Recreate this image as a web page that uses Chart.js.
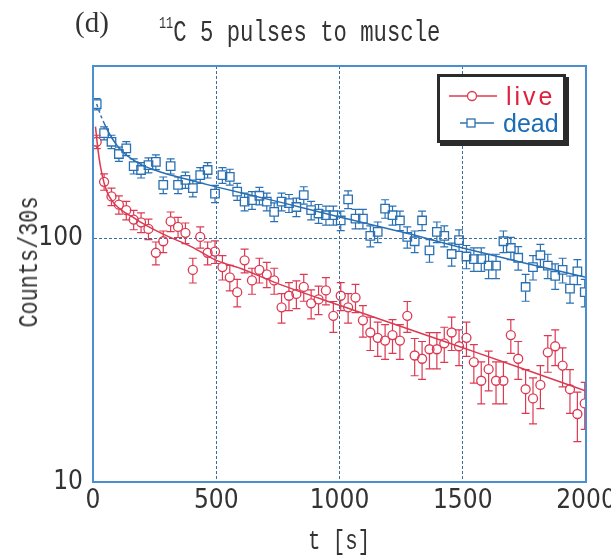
<!DOCTYPE html>
<html><head><meta charset="utf-8">
<script src="https://cdn.jsdelivr.net/npm/chart.js@4"></script>
<style>
body{margin:0;background:#fff;}
#wrap{position:relative;width:611px;height:557px;overflow:hidden;background:#fff;}
canvas{position:absolute;left:0;top:0;}
.t{position:absolute;white-space:nowrap;color:#333;line-height:1;}
</style></head><body>
<div id="wrap">
<canvas id="c" width="611" height="557"></canvas>
<div class="t" style="left:75px;top:8px;font-family:'Liberation Serif',serif;font-size:29px;">(d)</div>
<div class="t" style="left:159px;top:18px;font-family:'Liberation Mono',monospace;font-size:30px;transform-origin:0 0;transform:scaleX(0.742);"><span style="font-size:16px;position:relative;top:-13px;">11</span>C 5 pulses to muscle</div>
<div class="t" style="left:339px;top:542px;font-family:'Liberation Mono',monospace;font-size:28px;transform:translate(-50%,-50%) scaleX(0.74);">t [s]</div>
<div class="t" style="left:30px;top:262px;font-family:'Liberation Mono',monospace;font-size:28px;transform:translate(-50%,-50%) rotate(-90deg) scaleX(0.78);">Counts/30s</div>
<div id="leg" style="position:absolute;left:437px;top:74px;width:123px;height:63px;border:3px solid #2b2b2b;box-shadow:3px 3px 0 #2b2b2b;background:#fff;">
<svg width="123" height="63" style="position:absolute;left:0;top:0;">
<line x1="9" y1="19" x2="57" y2="19" stroke="#dc3a52" stroke-width="1.5"/>
<circle cx="32" cy="19" r="4.5" fill="#fff" stroke="#dc3a52" stroke-width="1.3"/>
<line x1="20" y1="46" x2="54" y2="46" stroke="#2a70b2" stroke-width="1.5"/>
<rect x="27" y="42" width="8" height="8" fill="#fff" stroke="#2a70b2" stroke-width="1.3"/>
</svg>
<div class="t" style="left:66px;top:7px;font-family:'Liberation Sans',sans-serif;font-size:25px;letter-spacing:3px;color:#e0203c;">live</div>
<div class="t" style="left:63px;top:34px;font-family:'Liberation Sans',sans-serif;font-size:25px;color:#1c6db5;">dead</div>
</div>
</div>
<script>
const times = [15,45,75,105,135,165,195,225,255,285,315,345,375,405,435,465,495,525,555,585,615,645,675,705,735,765,795,825,855,885,915,945,975,1005,1035,1065,1095,1125,1155,1185,1215,1245,1275,1305,1335,1365,1395,1425,1455,1485,1515,1545,1575,1605,1635,1665,1695,1725,1755,1785,1815,1845,1875,1905,1935,1965,1995];
const liveCounts = [248,170,148,137,130,119,116,109,87,97,117,111,105,74,101,87,88,76,69,60,81,67,74,71,67,52,58,59,63,54,56,61,48,58,52,57,46,41,39,38,40,38,48,33,32,35,35,37,41,36,39,31,26,29,26,26,40,32,24,22,25,34,36,30,24,19,21];
const deadCounts = [354,269,248,221,233,197,190,199,205,165,197,165,173,160,181,190,152,181,178,155,141,143,149,141,128,141,139,134,150,130,126,124,124,118,144,120,120,102,106,132,124,118,101,97,118,89,106,102,86,98,84,82,82,77,77,97,91,83,63,76,85,77,70,74,62,73,60];
const liveFitT = [10,20,30,45,60,80,100,130,160,200,250,300,400,500,600,750,1000,1250,1500,1750,2000];
const liveFitV = [286,231,197,168,152,141,134,127,122,115,108,102,92,81,75,65,53,43.4,35.5,29,23.6];
const deadFitT = [15,30,45,60,80,100,130,160,200,250,300,400,500,750,1000,1250,1500,1750,2000];
const deadFitV = [354,321,296,275,254,238,221,210,199,190,183,172,162,141,122,106,91,79,69];
const xTicks = [0,500,1000,1500,2000];
const yTicks = [10,100];

const RED = '#dc3a52', BLUE = '#2a70b2', FRAME = '#4a8fd0', GRID = '#3a6c9c';
const TICKFONT = {family:"'Liberation Sans Narrow','DejaVu Sans Condensed',sans-serif", size:26};

const errPlugin = {
  id:'err',
  afterDatasetsDraw(chart){
    const ctx = chart.ctx, ys = chart.scales.y, a = chart.chartArea;
    ctx.save();
    ctx.beginPath(); ctx.rect(a.left, a.top, a.right-a.left, a.bottom-a.top); ctx.clip();
    [[0, RED, 4.5], [1, BLUE, 4.2]].forEach(([di, col, r]) => {
      const meta = chart.getDatasetMeta(di);
      const data = chart.data.datasets[di].data;
      ctx.strokeStyle = col; ctx.lineWidth = 1.2;
      meta.data.forEach((el, i) => {
        const v = data[i].y, e = Math.sqrt(v);
        const x = el.x, y = el.y;
        const yt = ys.getPixelForValue(v + e), yb = ys.getPixelForValue(v - e);
        ctx.beginPath();
        if (y - r > yt) { ctx.moveTo(x, y - r); ctx.lineTo(x, yt); }
        if (y + r < yb) { ctx.moveTo(x, y + r); ctx.lineTo(x, yb); }
        ctx.moveTo(x - 4, yt); ctx.lineTo(x + 4, yt);
        ctx.moveTo(x - 4, yb); ctx.lineTo(x + 4, yb);
        ctx.stroke();
      });
    });
    ctx.restore();
  },
  afterDraw(chart){
    const ctx = chart.ctx, a = chart.chartArea;
    ctx.save(); ctx.strokeStyle = FRAME; ctx.lineWidth = 2;
    ctx.strokeRect(a.left, a.top, a.right-a.left, a.bottom-a.top);
    ctx.restore();
  }
};

new Chart(document.getElementById('c'), {
  type:'scatter',
  data:{datasets:[
    {data: times.map((t,i)=>({x:t,y:liveCounts[i]})), pointStyle:'circle', pointRadius:4.5, borderColor:RED, backgroundColor:'rgba(255,255,255,0)', borderWidth:1.3, showLine:false},
    {data: times.map((t,i)=>({x:t,y:deadCounts[i]})), pointStyle:'rect', pointRadius:6, borderColor:BLUE, backgroundColor:'rgba(255,255,255,0)', borderWidth:1.3, showLine:false},
    {data: liveFitT.map((t,i)=>({x:t,y:liveFitV[i]})), showLine:true, pointRadius:0, borderColor:RED, borderWidth:1.5, cubicInterpolationMode:'monotone', fill:false},
    {data: deadFitT.map((t,i)=>({x:t,y:deadFitV[i]})), showLine:true, pointRadius:0, borderColor:BLUE, borderWidth:1.5, cubicInterpolationMode:'monotone', fill:false,
      segment:{borderDash: c => c.p0.parsed.x < 45 ? [3,3] : undefined}}
  ]},
  options:{
    responsive:false, animation:false, devicePixelRatio:1,
    layout:{padding:{left:0, right:25, top:66, bottom:0}},
    plugins:{legend:{display:false}, tooltip:{enabled:false}},
    scales:{
      x:{type:'linear', min:0, max:2000,
        afterBuildTicks: s => { s.ticks = xTicks.map(v=>({value:v})); },
        afterFit: s => { s.height = 75; s.paddingLeft = 0; s.paddingRight = 0; },
        grid:{color: c => (c.tick && c.tick.value > 0 && c.tick.value < 2000) ? GRID : 'rgba(0,0,0,0)', lineWidth:1, drawTicks:false},
        border:{display:true, color:FRAME, width:2, dash:[3,2]},
        ticks:{font:TICKFONT, color:'#333', padding:4, maxRotation:0, autoSkip:false, callback: v => String(v)}
      },
      y:{type:'logarithmic', min:10, max:507,
        afterBuildTicks: s => { s.ticks = yTicks.map(v=>({value:v})); },
        afterFit: s => { s.width = 93; s.paddingTop = 0; s.paddingBottom = 0; },
        grid:{color: c => (c.tick && c.tick.value === 100) ? GRID : 'rgba(0,0,0,0)', lineWidth:1, drawTicks:false},
        border:{display:true, color:FRAME, width:2, dash:[3,2]},
        ticks:{font:TICKFONT, color:'#333', padding:10, callback: v => String(v)}
      }
    }
  },
  plugins:[errPlugin]
});
</script>
</body></html>
